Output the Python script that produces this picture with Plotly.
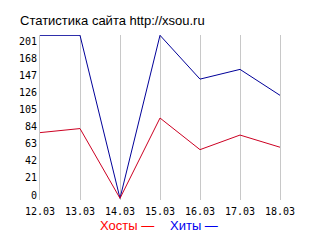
import plotly.graph_objects as go

# ---- data ----
dates = ["12.03", "13.03", "14.03", "15.03", "16.03", "17.03", "18.03"]
hosts = [81, 86, 0, 99, 60, 78, 63]      # Хосты
hits = [201, 201, 0, 201, 147, 159, 127]  # Хиты
series_names = ["Хосты", "Хиты"]
y_tick_values = [0, 21, 42, 63, 84, 105, 126, 147, 168, 189]
y_tick_labels = ["0", "21", "42", "63", "84", "105", "126", "147", "168", "201"]
title_text = "Статистика сайта http://xsou.ru"

# ---- style ----
RED_LINE = "#cc0022"
BLUE_LINE = "#000099"
RED_TEXT = "#ff0000"
BLUE_TEXT = "#0000ee"
GRID = "#c8c8c8"

W, H = 320, 240
M_L, M_R, M_T, M_B = 40, 40, 35, 40
y_range = [-2.1, 201.4]
plot_h = H - M_T - M_B
units_per_px = (y_range[1] - y_range[0]) / plot_h
label_shift = 3.3 * units_per_px  # labels sit slightly above their level

fig = go.Figure()
fig.add_trace(go.Scatter(x=dates, y=hits, mode="lines", name=series_names[1],
                         line=dict(color=BLUE_LINE, width=1)))
fig.add_trace(go.Scatter(x=dates, y=hosts, mode="lines", name=series_names[0],
                         line=dict(color=RED_LINE, width=1)))

fig.update_layout(
    width=W, height=H,
    margin=dict(l=M_L, r=M_R, t=M_T, b=M_B, pad=0),
    paper_bgcolor="white", plot_bgcolor="white",
    showlegend=False,
    title=dict(text=title_text, x=20 / W, xanchor="left", xref="container",
               y=1 - 20 / H, yanchor="middle", yref="container",
               font=dict(family="Liberation Sans, Arial", size=13, color="#000000")),
    xaxis=dict(type="category", range=[0, len(dates) - 1], showgrid=True, gridcolor=GRID,
               gridwidth=1, showline=False, zeroline=False, ticks="",
               ticklabelstandoff=4,
               tickfont=dict(family="DejaVu Sans Mono", size=10, color="#000000"),
               fixedrange=True),
    yaxis=dict(range=y_range, showgrid=False, zeroline=False, showline=True, mirror=True,
               linecolor=GRID, linewidth=1, ticks="",
               tickvals=[v + label_shift for v in y_tick_values], ticktext=y_tick_labels,
               tickfont=dict(family="DejaVu Sans Mono", size=10, color="#000000"),
               fixedrange=True),
)

legend_centers = [127, 194]
legend_colors = [RED_TEXT, BLUE_TEXT]
for name, cx, col in zip(series_names, legend_centers, legend_colors):
    fig.add_annotation(text=name + " —", xref="paper", yref="paper",
                       x=(cx - M_L) / (W - M_L - M_R), y=(H - M_B - 226) / plot_h,
                       xanchor="center", yanchor="middle", showarrow=False,
                       font=dict(family="Liberation Sans, Arial", size=13, color=col))

fig.write_html("out.html", config={"displayModeBar": False})
